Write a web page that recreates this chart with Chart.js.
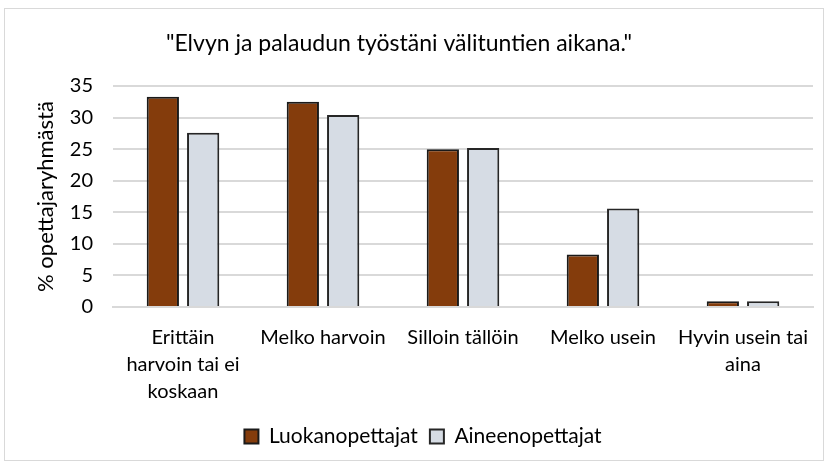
<!DOCTYPE html>
<html>
  <head>
    <meta charset="utf-8">
    <title>Elvyn ja palaudun</title>
    <style>
        html, body {
            margin: 0;
            padding: 0;
            background: #ffffff;
        }
        #wrap {
            position: relative;
            width: 828px;
            height: 464px;
        }
        #frame {
            position: absolute;
            left: 4px;
            top: 8px;
            width: 818px;
            height: 451px;
            border: 1px solid #d9d9d9;
            pointer-events: none;
        }
    </style>
    <script src="https://cdn.jsdelivr.net/npm/chart.js@4.4.0/dist/chart.umd.min.js"></script>
  </head>
  <body>
  <div id="wrap">
    <canvas id="myChart" width="828" height="464"></canvas>
    <div id="frame"></div>
  </div>

  <script type="text/javascript">
    // data
    var chartTitle = '"Elvyn ja palaudun työstäni välituntien aikana."';
    var categories = [
      ["Erittäin", "harvoin tai ei", "koskaan"],
      "Melko harvoin",
      "Silloin tällöin",
      "Melko usein",
      ["Hyvin usein tai", "aina"]
    ];
    var luokanopettajat = [33.3, 32.5, 25.0, 8.3, 0.9];
    var aineenopettajat = [27.6, 30.4, 25.2, 15.6, 0.9];
    var yTicks = [0, 5, 10, 15, 20, 25, 30, 35];

    Chart.defaults.font.family = "Lato, sans-serif";
    Chart.defaults.color = '#000000';

    // the title sits a bit left of centre in the original, so draw it by hand
    var titlePlugin = {
      id: 'offsetTitle',
      afterDraw: function (chart) {
        var c = chart.ctx;
        c.save();
        c.font = '23px Lato, sans-serif';
        c.fillStyle = '#000000';
        c.textAlign = 'center';
        c.textBaseline = 'middle';
        c.fillText(chartTitle, 399, 44);
        c.restore();
      }
    };

    var ctx = document.getElementById('myChart').getContext('2d');
    var chart = new Chart(ctx, {
        type: 'bar',
        data: {
            labels: categories,
            datasets: [{
                label: "Luokanopettajat",
                data: luokanopettajat,
                backgroundColor: '#843c0c',
                borderColor: '#1a1a1a',
                borderWidth: 2,
                barPercentage: 0.8,
                categoryPercentage: 0.576
            }, {
                label: "Aineenopettajat",
                data: aineenopettajat,
                backgroundColor: '#d6dce4',
                borderColor: '#262626',
                borderWidth: 2,
                barPercentage: 0.8,
                categoryPercentage: 0.576
            }]
        },
        plugins: [titlePlugin],
        options: {
            responsive: false,
            animation: false,
            layout: {
                padding: { left: 33, right: 15, top: 86, bottom: 7 }
            },
            plugins: {
                title: { display: false },
                legend: {
                    position: 'bottom',
                    labels: {
                        boxWidth: 14,
                        boxHeight: 14,
                        font: { size: 21 },
                        padding: 12
                    }
                },
                tooltip: { enabled: false }
            },
            scales: {
                x: {
                    grid: { display: false },
                    border: { color: '#d9d9d9', width: 2 },
                    ticks: {
                        font: { size: 20, lineHeight: 1.35 },
                        maxRotation: 0,
                        autoSkip: false,
                        padding: 9
                    }
                },
                y: {
                    min: 0,
                    max: 35,
                    afterBuildTicks: function (scale) {
                        scale.ticks = yTicks.map(function (v) { return { value: v }; });
                    },
                    afterFit: function (scale) {
                        scale.width = 80;
                    },
                    grid: { color: '#d9d9d9', lineWidth: 2, drawTicks: false },
                    border: { display: false },
                    ticks: {
                        font: { size: 20 },
                        padding: 20
                    },
                    title: {
                        display: true,
                        text: '% opettajaryhmästä',
                        font: { size: 22 },
                        padding: 0
                    }
                }
            }
        }
    });
  </script>
  </body>
</html>
